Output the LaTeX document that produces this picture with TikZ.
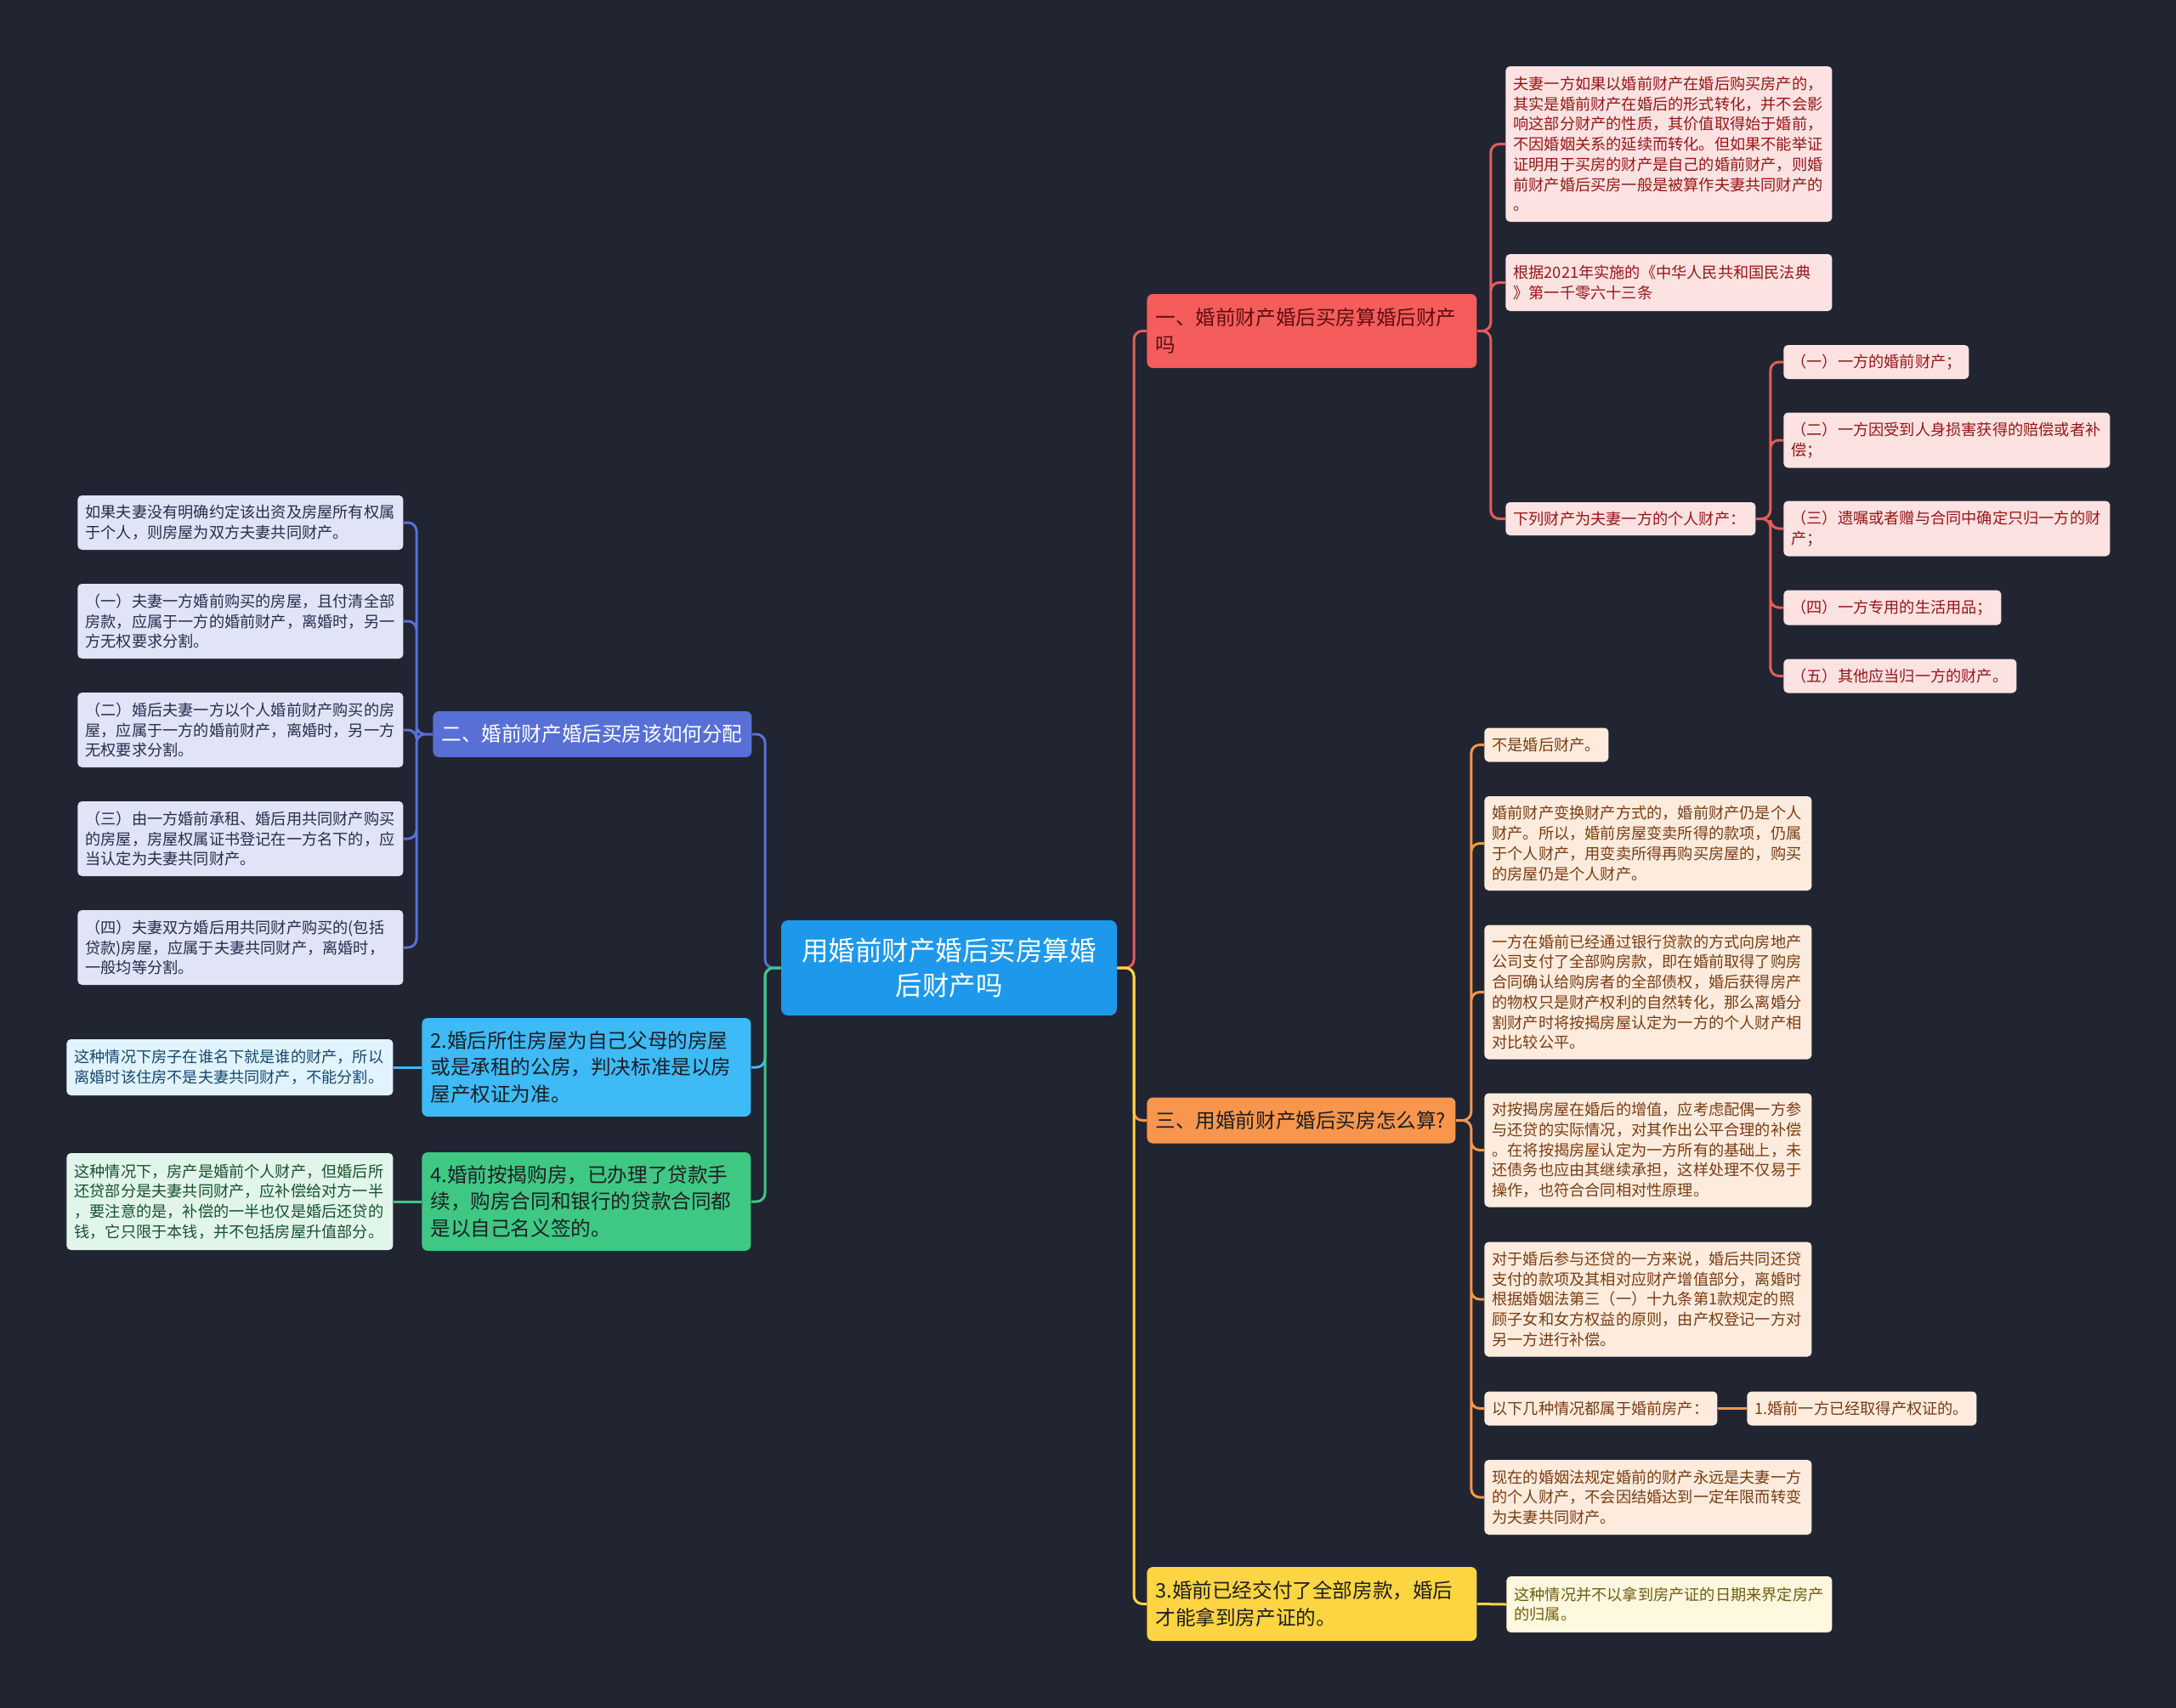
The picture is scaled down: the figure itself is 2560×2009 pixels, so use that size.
\documentclass[tikz,border=0pt]{standalone}
\usepackage{fontspec}
\setmainfont{Noto Sans CJK SC}
\usepackage{xcolor}
\usepackage{tikz}
\definecolor{bgdark}{RGB}{33,37,49}
\definecolor{rootblue}{RGB}{30,152,234}
\definecolor{redmain}{RGB}{245,92,92}
\definecolor{redline}{RGB}{228,92,92}
\definecolor{redleaf}{RGB}{253,226,226}
\definecolor{redtext}{RGB}{150,22,22}
\definecolor{redhead}{RGB}{95,14,14}
\definecolor{bluemain}{RGB}{88,112,214}
\definecolor{blueleaf}{RGB}{224,228,246}
\definecolor{bluetext}{RGB}{42,44,78}
\definecolor{cyanmain}{RGB}{62,186,246}
\definecolor{cyanleaf}{RGB}{225,244,253}
\definecolor{cyantext}{RGB}{22,72,112}
\definecolor{greenmain}{RGB}{62,200,132}
\definecolor{greenleaf}{RGB}{226,245,234}
\definecolor{greentext}{RGB}{22,82,46}
\definecolor{orangemain}{RGB}{247,150,76}
\definecolor{orangeleaf}{RGB}{253,236,222}
\definecolor{orangetext}{RGB}{122,60,18}
\definecolor{yellowmain}{RGB}{253,213,66}
\definecolor{yellowleaf}{RGB}{254,248,222}
\definecolor{yellowtext}{RGB}{112,92,18}
\definecolor{headdark}{RGB}{30,30,36}

\tikzset{
  rootbox/.style={fill=rootblue, text=white, rounded corners=4pt, inner xsep=10pt,
    align=center, font=\fontsize{15.75}{20.4}\selectfont},
  branch/.style={rounded corners=3.5pt, inner xsep=5pt, inner ysep=2pt, align=left,
    anchor=west, font=\fontsize{11.8}{15.9}\selectfont},
  leaf/.style={rounded corners=2.5pt, inner xsep=4.5pt, inner ysep=2pt, align=left,
    anchor=west, font=\fontsize{9.1}{11.85}\selectfont},
  link/.style={line width=1.5pt, rounded corners=5pt},
}

\begin{document}
\begin{tikzpicture}[x=0.5pt, y=-0.5pt]

\useasboundingbox (0,0) rectangle (2560,2009);
\fill[bgdark] (-20,-20) rectangle (2580,2029);

% centre
\node[rootbox, text width=177.5pt, minimum height=56pt] (root) at (1116.5,1139)
{用婚前财产婚后买房算婚 \\ 后财产吗};

\coordinate (rtr) at (1334,1139);
\coordinate (ltr) at (900,1139);

% red branch
\node[branch, fill=redmain, text=redhead, text width=184pt, minimum height=43.5pt] (R0) at (1349,389.5)
{一、婚前财产婚后买房算婚后财产 \\ 吗};

\node[leaf, fill=redleaf, text=redtext, text width=183pt, minimum height=91.5pt] (R1) at (1771,169.5)
{
夫妻一方如果以婚前财产在婚后购买房产的， \\
其实是婚前财产在婚后的形式转化，并不会影 \\
响这部分财产的性质，其价值取得始于婚前， \\
不因婚姻关系的延续而转化。但如果不能举证 \\
证明用于买房的财产是自己的婚前财产，则婚 \\
前财产婚后买房一般是被算作夫妻共同财产的 \\
。
};
\node[leaf, fill=redleaf, text=redtext, text width=183pt, minimum height=33.5pt] (R2) at (1771,332.5)
{根据2021年实施的《中华人民共和国民法典 \\ 》第一千零六十三条};
\node[leaf, fill=redleaf, text=redtext, text width=138pt, minimum height=19.5pt] (R3) at (1771,610.5)
{下列财产为夫妻一方的个人财产：};

\node[leaf, fill=redleaf, text=redtext, text width=100pt, minimum height=20pt] (R3a) at (2098,426)
{（一）一方的婚前财产；};
\node[leaf, fill=redleaf, text=redtext, text width=183pt, minimum height=32.5pt] (R3b) at (2098,518)
{（二）一方因受到人身损害获得的赔偿或者补 \\ 偿；};
\node[leaf, fill=redleaf, text=redtext, text width=183pt, minimum height=32.5pt] (R3c) at (2098,622)
{（三）遗嘱或者赠与合同中确定只归一方的财 \\ 产；};
\node[leaf, fill=redleaf, text=redtext, text width=119pt, minimum height=20.5pt] (R3d) at (2098,715)
{（四）一方专用的生活用品；};
\node[leaf, fill=redleaf, text=redtext, text width=128pt, minimum height=20pt] (R3e) at (2098,795.5)
{（五）其他应当归一方的财产。};

% blue branch
\node[branch, fill=bluemain, text=white, text width=177.5pt, minimum height=27pt] (B0) at (509,864)
{二、婚前财产婚后买房该如何分配};

\node[leaf, fill=blueleaf, text=bluetext, text width=182.5pt, minimum height=32pt] (B1) at (91,615)
{如果夫妻没有明确约定该出资及房屋所有权属 \\ 于个人，则房屋为双方夫妻共同财产。};
\node[leaf, fill=blueleaf, text=bluetext, text width=182.5pt, minimum height=44pt] (B2) at (91,731)
{
（一）夫妻一方婚前购买的房屋，且付清全部 \\
房款，应属于一方的婚前财产，离婚时，另一 \\
方无权要求分割。
};
\node[leaf, fill=blueleaf, text=bluetext, text width=182.5pt, minimum height=44pt] (B3) at (91,859)
{
（二）婚后夫妻一方以个人婚前财产购买的房 \\
屋，应属于一方的婚前财产，离婚时，另一方 \\
无权要求分割。
};
\node[leaf, fill=blueleaf, text=bluetext, text width=182.5pt, minimum height=44pt] (B4) at (91,987)
{
（三）由一方婚前承租、婚后用共同财产购买 \\
的房屋，房屋权属证书登记在一方名下的，应 \\
当认定为夫妻共同财产。
};
\node[leaf, fill=blueleaf, text=bluetext, text width=182.5pt, minimum height=44pt] (B5) at (91,1115)
{
（四）夫妻双方婚后用共同财产购买的(包括 \\
贷款)房屋，应属于夫妻共同财产，离婚时， \\
一般均等分割。
};

% cyan and green branches
\node[branch, fill=cyanmain, text=headdark, text width=183.5pt, minimum height=58pt] (C0) at (496,1256)
{2.婚后所住房屋为自己父母的房屋 \\ 或是承租的公房，判决标准是以房 \\ 屋产权证为准。};
\node[leaf, fill=cyanleaf, text=cyantext, text width=183pt, minimum height=33pt] (C1) at (78,1256)
{这种情况下房子在谁名下就是谁的财产，所以 \\ 离婚时该住房不是夫妻共同财产，不能分割。};

\node[branch, fill=greenmain, text=headdark, text width=183.5pt, minimum height=58pt] (G0) at (496,1414)
{4.婚前按揭购房，已办理了贷款手 \\ 续，购房合同和银行的贷款合同都 \\ 是以自己名义签的。};
\node[leaf, fill=greenleaf, text=greentext, text width=183pt, minimum height=57pt] (G1) at (78,1414)
{
这种情况下，房产是婚前个人财产，但婚后所 \\
还贷部分是夫妻共同财产，应补偿给对方一半 \\
，要注意的是，补偿的一半也仅是婚后还贷的 \\
钱，它只限于本钱，并不包括房屋升值部分。
};

% orange branch
\node[branch, fill=orangemain, text=headdark, text width=171.5pt, minimum height=27pt] (O0) at (1349,1318.5)
{三、用婚前财产婚后买房怎么算?};

\node[leaf, fill=orangeleaf, text=orangetext, text width=64pt, minimum height=20pt] (O1) at (1746,876.5)
{不是婚后财产。};
\node[leaf, fill=orangeleaf, text=orangetext, text width=183.5pt, minimum height=55.5pt] (O2) at (1746,992.5)
{
婚前财产变换财产方式的，婚前财产仍是个人 \\
财产。所以，婚前房屋变卖所得的款项，仍属 \\
于个人财产，用变卖所得再购买房屋的，购买 \\
的房屋仍是个人财产。
};
\node[leaf, fill=orangeleaf, text=orangetext, text width=183.5pt, minimum height=79pt] (O3) at (1746,1167.5)
{
一方在婚前已经通过银行贷款的方式向房地产 \\
公司支付了全部购房款，即在婚前取得了购房 \\
合同确认给购房者的全部债权，婚后获得房产 \\
的物权只是财产权利的自然转化，那么离婚分 \\
割财产时将按揭房屋认定为一方的个人财产相 \\
对比较公平。
};
\node[leaf, fill=orangeleaf, text=orangetext, text width=183.5pt, minimum height=67pt] (O4) at (1746,1353.5)
{
对按揭房屋在婚后的增值，应考虑配偶一方参 \\
与还贷的实际情况，对其作出公平合理的补偿 \\
。在将按揭房屋认定为一方所有的基础上，未 \\
还债务也应由其继续承担，这样处理不仅易于 \\
操作，也符合合同相对性原理。
};
\node[leaf, fill=orangeleaf, text=orangetext, text width=183.5pt, minimum height=67.5pt] (O5) at (1746,1529)
{
对于婚后参与还贷的一方来说，婚后共同还贷 \\
支付的款项及其相对应财产增值部分，离婚时 \\
根据婚姻法第三（一）十九条第1款规定的照 \\
顾子女和女方权益的原则，由产权登记一方对 \\
另一方进行补偿。
};
\node[leaf, fill=orangeleaf, text=orangetext, text width=128pt, minimum height=20pt] (O6) at (1746,1657.5)
{以下几种情况都属于婚前房产：};
\node[leaf, fill=orangeleaf, text=orangetext, text width=126pt, minimum height=20pt] (O6a) at (2055,1657.5)
{1.婚前一方已经取得产权证的。};
\node[leaf, fill=orangeleaf, text=orangetext, text width=183.5pt, minimum height=44pt] (O7) at (1746,1762)
{
现在的婚姻法规定婚前的财产永远是夫妻一方 \\
的个人财产，不会因结婚达到一定年限而转变 \\
为夫妻共同财产。
};

% yellow branch
\node[branch, fill=yellowmain, text=headdark, text width=184pt, minimum height=43.5pt] (Y0) at (1349,1887.5)
{3.婚前已经交付了全部房款，婚后 \\ 才能拿到房产证的。};
\node[leaf, fill=yellowleaf, text=yellowtext, text width=182.5pt, minimum height=33pt] (Y1) at (1772,1888)
{这种情况并不以拿到房产证的日期来界定房产 \\ 的归属。};

% connectors
\draw[link, redline] (root.east) -- (rtr) |- (R0.west);
\draw[link, orangemain] (root.east) -- (rtr) |- (O0.west);
\draw[link, yellowmain] (root.east) -- (rtr) |- (Y0.west);

\draw[link, bluemain] (root.west) -- (ltr) |- (B0.east);
\draw[link, cyanmain] (root.west) -- (ltr) |- (C0.east);
\draw[link, greenmain] (root.west) -- (ltr) |- (G0.east);

\draw[link, redline] (R0.east) -- ++(16,0) |- (R1.west)
  (R0.east) -- ++(16,0) |- (R2.west)
  (R0.east) -- ++(16,0) |- (R3.west);
\draw[link, redline] (R3.east) -- ++(17,0) |- (R3a.west)
  (R3.east) -- ++(17,0) |- (R3b.west)
  (R3.east) -- ++(17,0) |- (R3c.west)
  (R3.east) -- ++(17,0) |- (R3d.west)
  (R3.east) -- ++(17,0) |- (R3e.west);

\draw[link, bluemain] (B0.west) -- ++(-19,0) |- (B1.east)
  (B0.west) -- ++(-19,0) |- (B2.east)
  (B0.west) -- ++(-19,0) |- (B3.east)
  (B0.west) -- ++(-19,0) |- (B4.east)
  (B0.west) -- ++(-19,0) |- (B5.east);

\draw[link, cyanmain] (C0.west) -- (C1.east);
\draw[link, greenmain] (G0.west) -- (G1.east);

\draw[link, orangemain] (O0.east) -- ++(18,0) |- (O1.west)
  (O0.east) -- ++(18,0) |- (O2.west)
  (O0.east) -- ++(18,0) |- (O3.west)
  (O0.east) -- ++(18,0) |- (O4.west)
  (O0.east) -- ++(18,0) |- (O5.west)
  (O0.east) -- ++(18,0) |- (O6.west)
  (O0.east) -- ++(18,0) |- (O7.west);
\draw[link, orangemain] (O6.east) -- (O6a.west);

\draw[link, yellowmain] (Y0.east) -- (Y1.west);

\end{tikzpicture}
\end{document}
